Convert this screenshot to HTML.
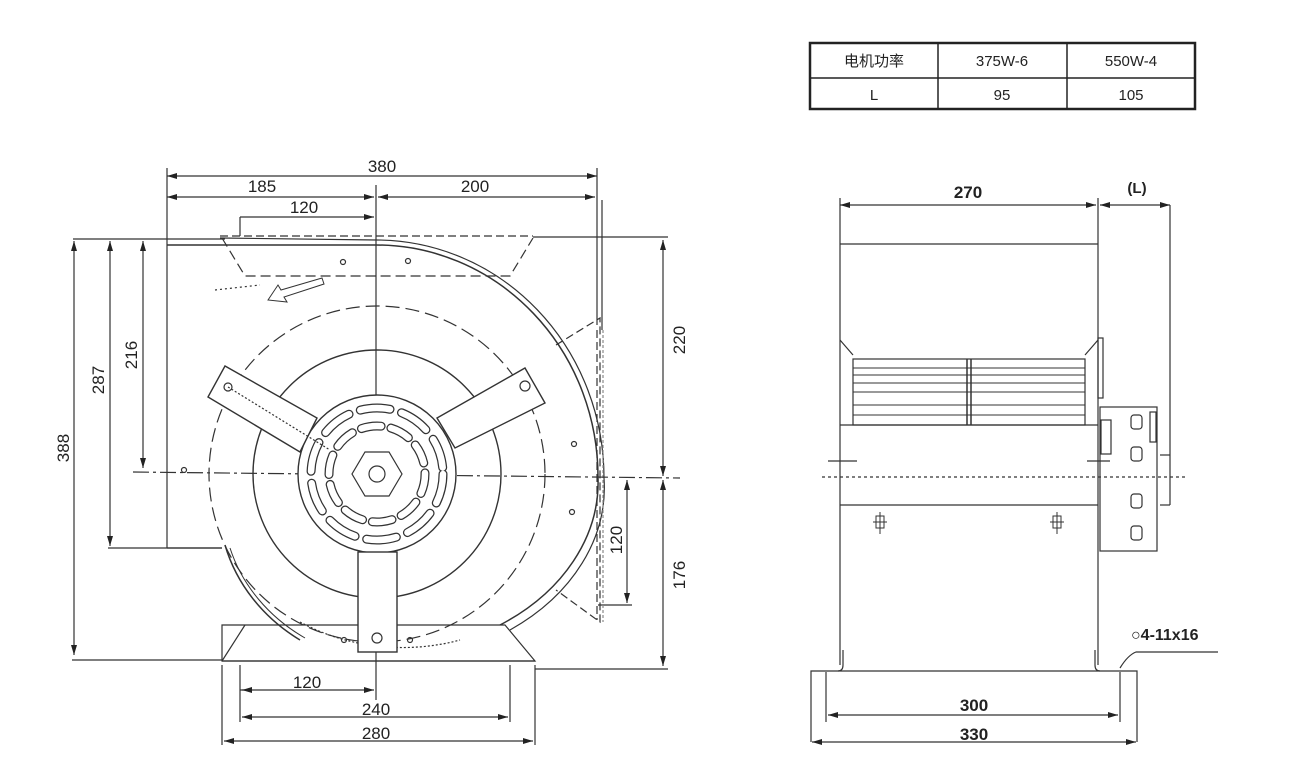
<!DOCTYPE html>
<html><head><meta charset="utf-8"><style>
html,body{margin:0;padding:0;background:#fff;}
svg{display:block;}
text{font-family:"Liberation Sans","Noto Sans CJK SC",sans-serif;fill:#222;}
</style></head><body>
<svg width="1290" height="771" viewBox="0 0 1290 771" xmlns="http://www.w3.org/2000/svg">
<defs>
<marker id="a" viewBox="0 0 10 6" refX="10" refY="3" markerWidth="10" markerHeight="6" orient="auto-start-reverse" markerUnits="userSpaceOnUse"><path d="M0,0 L10,3 L0,6 z" fill="#222"/></marker>
</defs>
<!-- TABLE -->
<g stroke="#222" fill="none">
<rect x="810" y="43" width="385" height="66" stroke-width="2.5"/>
<line x1="810" y1="78" x2="1195" y2="78" stroke-width="1.5"/>
<line x1="938" y1="43" x2="938" y2="109" stroke-width="1.5"/>
<line x1="1067" y1="43" x2="1067" y2="109" stroke-width="1.5"/>
</g>
<g font-size="15" text-anchor="middle">
<text x="874" y="66">电机功率</text><text x="1002" y="66">375W-6</text><text x="1131" y="66">550W-4</text>
<text x="874" y="100">L</text><text x="1002" y="100">95</text><text x="1131" y="100">105</text>
</g>

<!-- LEFT VIEW -->
<g stroke="#333" stroke-width="1.2" fill="none">
<line x1="167" y1="176" x2="597" y2="176" marker-start="url(#a)" marker-end="url(#a)"/>
<line x1="167" y1="197" x2="374" y2="197" marker-start="url(#a)" marker-end="url(#a)"/>
<line x1="378" y1="197" x2="595" y2="197" marker-start="url(#a)" marker-end="url(#a)"/>
<line x1="240" y1="217" x2="374" y2="217" marker-end="url(#a)"/>
<line x1="240" y1="217" x2="240" y2="236"/>
<line x1="167" y1="168" x2="167" y2="548"/>
<line x1="597" y1="168" x2="597" y2="325"/>
<line x1="602" y1="200" x2="602" y2="330"/>
<line x1="73" y1="239" x2="225" y2="239"/>
<line x1="74" y1="241" x2="74" y2="655" marker-start="url(#a)" marker-end="url(#a)"/>
<line x1="110" y1="241" x2="110" y2="546" marker-start="url(#a)" marker-end="url(#a)"/>
<line x1="143" y1="241" x2="143" y2="468" marker-start="url(#a)" marker-end="url(#a)"/>
<line x1="108" y1="548" x2="222" y2="548"/>
<line x1="72" y1="660" x2="222" y2="660"/>
<line x1="533" y1="237" x2="668" y2="237"/>
<line x1="663" y1="240" x2="663" y2="476" marker-start="url(#a)" marker-end="url(#a)"/>
<line x1="663" y1="480" x2="663" y2="666" marker-start="url(#a)" marker-end="url(#a)"/>
<line x1="535" y1="669" x2="668" y2="669"/>
<line x1="627" y1="480" x2="627" y2="603" marker-start="url(#a)" marker-end="url(#a)"/>
<line x1="598" y1="605" x2="632" y2="605"/>
<line x1="240" y1="690" x2="374" y2="690" marker-end="url(#a)"/>
<line x1="242" y1="690" x2="250" y2="690" marker-start="url(#a)"/>
<line x1="242" y1="717" x2="508" y2="717" marker-start="url(#a)" marker-end="url(#a)"/>
<line x1="224" y1="741" x2="533" y2="741" marker-start="url(#a)" marker-end="url(#a)"/>
<line x1="240" y1="665" x2="240" y2="722"/>
<line x1="510" y1="665" x2="510" y2="722"/>
<line x1="222" y1="665" x2="222" y2="745"/>
<line x1="535" y1="665" x2="535" y2="745"/>
<line x1="376" y1="185" x2="376" y2="700"/>
<path d="M167,245 L376,245 A222,232 0 0 1 598,478 A222,172 0 0 1 500,625" stroke-width="1.5"/>
<path d="M220,238 L376,240 A228,238 0 0 1 604,478 A228,176 0 0 1 510,630" stroke-width="1.2"/>
<path d="M167,548 L222,548" />
<path d="M225,545 A180,165 0 0 0 300,640" stroke-width="1.5"/>
<path d="M230,548 A178,160 0 0 0 305,638" stroke-width="1"/>
<path d="M220,236 L533,236" stroke-dasharray="8,4"/>
<path d="M222,238 L245,276 L510,276 L533,238" stroke-dasharray="10,5"/>
<path d="M215,290 L260,285" stroke-dasharray="2,3"/>
<path d="M556,345 L600,318 L600,622 L556,590" stroke-dasharray="8,4"/>
<path d="M603,330 L603,622" stroke-dasharray="3,2" stroke="#888"/>
<path d="M597,330 L597,620" stroke-dasharray="8,4"/>
<path d="M268,300 L278,285 L281,290 L322,278 L324,284 L284,297 L287,302 Z" stroke-width="1"/>
<line x1="133" y1="472" x2="680" y2="478" stroke-dasharray="16,4,3,4"/>
<circle cx="377" cy="474" r="168" stroke-dasharray="14,6"/>
<circle cx="377" cy="474" r="124" stroke-width="1.4"/>
<circle cx="377" cy="474" r="79" stroke-width="1.4" fill="#fff"/>
<path d="M300,622 A200,180 0 0 0 460,640" stroke-dasharray="2,2"/>
<path d="M222,625 L505,625 L535,661 L222,661 Z" fill="none"/>
<line x1="222" y1="661" x2="535" y2="661"/>
<line x1="245" y1="625" x2="222" y2="661"/>
<g stroke-width="9" stroke="#333" stroke-linecap="round">
<circle cx="377" cy="474" r="66" stroke-dasharray="30,12"/>
<circle cx="377" cy="474" r="48" stroke-dasharray="20,10"/>
</g>
<g stroke-width="6.5" stroke="#fff" stroke-linecap="round">
<circle cx="377" cy="474" r="66" stroke-dasharray="30,12"/>
<circle cx="377" cy="474" r="48" stroke-dasharray="20,10"/>
</g>
<polygon points="402,474 389,496 365,496 352,474 365,452 389,452" fill="#fff"/>
<circle cx="377" cy="474" r="8"/>
<polygon points="208,397 225,366 317,418 300,452" fill="#fff" stroke-width="1.4"/>
<polygon points="525,368 545,403 455,448 437,418" fill="#fff" stroke-width="1.4"/>
<rect x="358" y="552" width="39" height="100" fill="#fff" stroke-width="1.4"/>
<circle cx="228" cy="387" r="4"/><circle cx="525" cy="386" r="5"/><circle cx="377" cy="638" r="5"/>
<circle cx="343" cy="262" r="2.5"/><circle cx="408" cy="261" r="2.5"/><circle cx="184" cy="470" r="2.5"/>
<circle cx="574" cy="444" r="2.5"/><circle cx="572" cy="512" r="2.5"/><circle cx="344" cy="640" r="2.5"/><circle cx="410" cy="640" r="2.5"/>
<line x1="228" y1="387" x2="330" y2="450" stroke-dasharray="2,2"/>
</g>
<g font-size="17">
<text x="382" y="172" text-anchor="middle">380</text>
<text x="262" y="192" text-anchor="middle">185</text>
<text x="475" y="192" text-anchor="middle">200</text>
<text x="304" y="213" text-anchor="middle">120</text>
<text x="307" y="688" text-anchor="middle">120</text>
<text x="376" y="715" text-anchor="middle">240</text>
<text x="376" y="739" text-anchor="middle">280</text>
<text transform="translate(69,448) rotate(-90)" text-anchor="middle">388</text>
<text transform="translate(104,380) rotate(-90)" text-anchor="middle">287</text>
<text transform="translate(137,355) rotate(-90)" text-anchor="middle">216</text>
<text transform="translate(685,340) rotate(-90)" text-anchor="middle">220</text>
<text transform="translate(622,540) rotate(-90)" text-anchor="middle">120</text>
<text transform="translate(685,575) rotate(-90)" text-anchor="middle">176</text>
</g>

<!-- RIGHT VIEW -->
<g stroke="#333" stroke-width="1.2" fill="none">
<line x1="840" y1="205" x2="1096" y2="205" marker-start="url(#a)" marker-end="url(#a)"/>
<line x1="1100" y1="205" x2="1170" y2="205" marker-start="url(#a)" marker-end="url(#a)"/>
<line x1="1170" y1="205" x2="1170" y2="505"/>
<line x1="1160" y1="455" x2="1170" y2="455"/>
<line x1="1160" y1="505" x2="1170" y2="505"/>
<line x1="840" y1="198" x2="840" y2="665"/>
<line x1="1098" y1="198" x2="1098" y2="665"/>
<line x1="840" y1="244" x2="1098" y2="244"/>
<line x1="840" y1="425" x2="1098" y2="425"/>
<line x1="840" y1="505" x2="1098" y2="505"/>
<path d="M840,340 L853,355 M1098,340 L1085,355"/>
<rect x="853" y="359" width="232" height="66"/>
<g stroke-width="1">
<line x1="853" y1="368" x2="1085" y2="368"/><line x1="853" y1="375" x2="1085" y2="375"/>
<line x1="853" y1="383" x2="1085" y2="383"/><line x1="853" y1="392" x2="1085" y2="392"/>
<line x1="853" y1="405" x2="1085" y2="405"/><line x1="853" y1="415" x2="1085" y2="415"/>
</g>
<line x1="967" y1="359" x2="967" y2="425" stroke-width="1.5"/>
<line x1="971" y1="359" x2="971" y2="425" stroke-width="1.5"/>
<line x1="822" y1="477" x2="1187" y2="477" stroke-dasharray="3,3"/>
<line x1="828" y1="461" x2="857" y2="461"/><line x1="1087" y1="461" x2="1110" y2="461"/>
<rect x="1098" y="338" width="5" height="60"/>
<rect x="1100" y="407" width="57" height="144"/>
<rect x="1150" y="412" width="6" height="30"/>
<rect x="1101" y="420" width="10" height="34"/>
<rect x="1131" y="415" width="11" height="14" rx="3"/><rect x="1131" y="447" width="11" height="14" rx="3"/>
<rect x="1131" y="494" width="11" height="14" rx="3"/><rect x="1131" y="526" width="11" height="14" rx="3"/>
<path d="M876,516 L884,516 L884,528 L876,528 Z M880,512 L880,534 M873,522 L887,522" stroke-width="1"/>
<path d="M1053,516 L1061,516 L1061,528 L1053,528 Z M1057,512 L1057,534 M1050,522 L1064,522" stroke-width="1"/>
<path d="M843,650 L843,665 Q843,671 838,671 M1095,650 L1095,665 Q1095,671 1100,671"/>
<path d="M811,742 L811,671 L1137,671 L1137,742"/>
<line x1="826" y1="672" x2="826" y2="722"/>
<line x1="1120" y1="672" x2="1120" y2="722"/>
<line x1="828" y1="715" x2="1118" y2="715" marker-start="url(#a)" marker-end="url(#a)"/>
<line x1="812" y1="742" x2="1136" y2="742" marker-start="url(#a)" marker-end="url(#a)"/>
<path d="M1120,668 Q1128,655 1136,652 L1218,652"/>
</g>
<g font-size="17" font-weight="bold">
<text x="968" y="198" text-anchor="middle">270</text>
<text x="1137" y="193" text-anchor="middle" font-size="15">(L)</text>
<text x="974" y="711" text-anchor="middle">300</text>
<text x="974" y="740" text-anchor="middle">330</text>
<text x="1131" y="640" font-size="16">○4-11x16</text>
</g>
</svg>
</body></html>
